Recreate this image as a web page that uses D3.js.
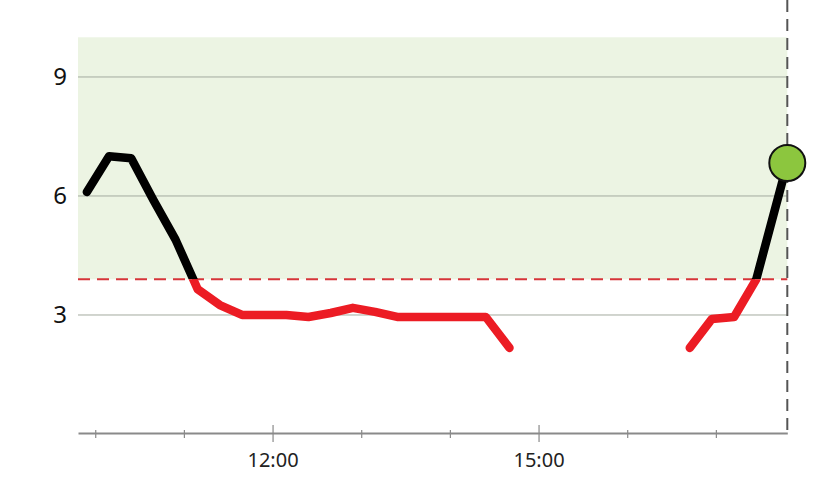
<!DOCTYPE html>
<html>
<head>
<meta charset="utf-8">
<script src="https://cdn.jsdelivr.net/npm/d3@7"></script>
<style>
  body { margin: 0; background: #fff; }
  svg { display: block; font-family: "Noto Sans", "Open Sans", sans-serif; }
</style>
</head>
<body>
<svg id="chart" width="828" height="482"></svg>
<script>
// readings (time of day, mmol/L)
const times = ["09:54", "10:09", "10:24", "10:39", "10:54", "11:09", "11:24", "11:39", "11:54",
  "12:09", "12:24", "12:39", "12:54", "13:09", "13:24", "13:39", "13:54", "14:09", "14:24", "14:40",
  "16:42", "16:57", "17:12", "17:27", "17:48"];
const values = [6.1, 7.0, 6.95, 5.9, 4.9, 3.65, 3.25, 3.0, 3.0,
  3.0, 2.95, 3.05, 3.18, 3.08, 2.95, 2.95, 2.95, 2.95, 2.95, 2.17,
  2.17, 2.9, 2.95, 3.9, 6.83];
const yTicks = [3, 6, 9];
const xLabels = ["12:00", "15:00"];
const targetRange = [3.9, 10];
const lowLimit = 3.9;
const domainStart = "09:48";
const domainEnd = "17:48";

const parse = d3.timeParse("%H:%M");
const data = times.map((t, i) => ({ t: parse(t), v: values[i] }));

const width = 828;
const height = 482;
const plotLeft = 78, plotRight = 787.3, plotTop = 37.3, plotBottom = 434;

const svg = d3.select("#chart");

const x = d3.scaleTime()
  .domain([parse(domainStart), parse(domainEnd)])
  .range([plotLeft, plotRight]);

const y = d3.scaleLinear()
  .domain([0, 10])
  .range([plotBottom, plotTop]);

// target band
svg.append("rect")
  .attr("x", plotLeft)
  .attr("y", y(targetRange[1]))
  .attr("width", plotRight - plotLeft)
  .attr("height", y(targetRange[0]) - y(targetRange[1]))
  .attr("fill", "#ecf4e3");

// horizontal grid + labels
svg.append("g")
  .selectAll("line")
  .data(yTicks)
  .join("line")
  .attr("x1", plotLeft)
  .attr("x2", plotRight)
  .attr("y1", (d) => y(d))
  .attr("y2", (d) => y(d))
  .attr("stroke", "#a3aa9f")
  .attr("stroke-width", 1);

svg.append("g")
  .selectAll("text")
  .data(yTicks)
  .join("text")
  .attr("x", 67)
  .attr("y", (d) => y(d))
  .attr("dy", "0.35em")
  .attr("text-anchor", "end")
  .attr("font-size", 24)
  .attr("fill", "#111")
  .text((d) => d);

// low limit
svg.append("line")
  .attr("x1", plotLeft)
  .attr("x2", plotRight)
  .attr("y1", y(lowLimit))
  .attr("y2", y(lowLimit))
  .attr("stroke", "#d6343a")
  .attr("stroke-width", 2)
  .attr("stroke-dasharray", "12,7");

// x axis
const axisY = 433;
const xAxis = d3.axisBottom(x)
  .ticks(d3.timeHour.every(1))
  .tickSize(0)
  .tickFormat("");
const gx = svg.append("g")
  .attr("transform", `translate(0,${axisY})`)
  .call(xAxis);
gx.select(".domain").attr("stroke", "#8a8a8a").attr("stroke-width", 2);

const hourTicks = x.ticks(d3.timeHour.every(1));
const isMajor = (d) => xLabels.includes(d3.timeFormat("%H:%M")(d));
svg.append("g")
  .selectAll("line")
  .data(hourTicks)
  .join("line")
  .attr("x1", (d) => x(d))
  .attr("x2", (d) => x(d))
  .attr("y1", (d) => axisY - (isMajor(d) ? 8 : 3))
  .attr("y2", (d) => axisY + (isMajor(d) ? 9 : 5))
  .attr("stroke", "#8a8a8a")
  .attr("stroke-width", 1.2);

svg.append("g")
  .selectAll("text")
  .data(xLabels)
  .join("text")
  .attr("x", (d) => x(parse(d)))
  .attr("y", 467)
  .attr("text-anchor", "middle")
  .attr("font-size", 20)
  .attr("fill", "#222")
  .text((d) => d);

// current time marker
svg.append("line")
  .attr("x1", plotRight)
  .attr("x2", plotRight)
  .attr("y1", 0)
  .attr("y2", axisY)
  .attr("stroke", "#555")
  .attr("stroke-width", 2)
  .attr("stroke-dasharray", "12,7");

// split readings where there is a gap longer than 30 minutes
const segments = [];
data.forEach((d, i) => {
  if (i === 0 || d.t - data[i - 1].t > 30 * 60 * 1000) segments.push([]);
  segments[segments.length - 1].push(d);
});

const defs = svg.append("defs");
defs.append("clipPath").attr("id", "above")
  .append("rect")
  .attr("x", 0).attr("y", 0)
  .attr("width", width).attr("height", y(lowLimit));
defs.append("clipPath").attr("id", "below")
  .append("rect")
  .attr("x", 0).attr("y", y(lowLimit))
  .attr("width", width).attr("height", height - y(lowLimit));

const line = d3.line()
  .x((d) => x(d.t))
  .y((d) => y(d.v));

[["above", "#000"], ["below", "#ec1c24"]].forEach(([clip, color]) => {
  svg.append("g")
    .attr("clip-path", `url(#${clip})`)
    .selectAll("path")
    .data(segments)
    .join("path")
    .attr("d", line)
    .attr("fill", "none")
    .attr("stroke", color)
    .attr("stroke-width", 8.5)
    .attr("stroke-linejoin", "round")
    .attr("stroke-linecap", "round");
});

// latest reading
const last = data[data.length - 1];
svg.append("circle")
  .attr("cx", x(last.t))
  .attr("cy", y(last.v))
  .attr("r", 18)
  .attr("fill", "#8cc63e")
  .attr("stroke", "#111")
  .attr("stroke-width", 2);
</script>
</body>
</html>
